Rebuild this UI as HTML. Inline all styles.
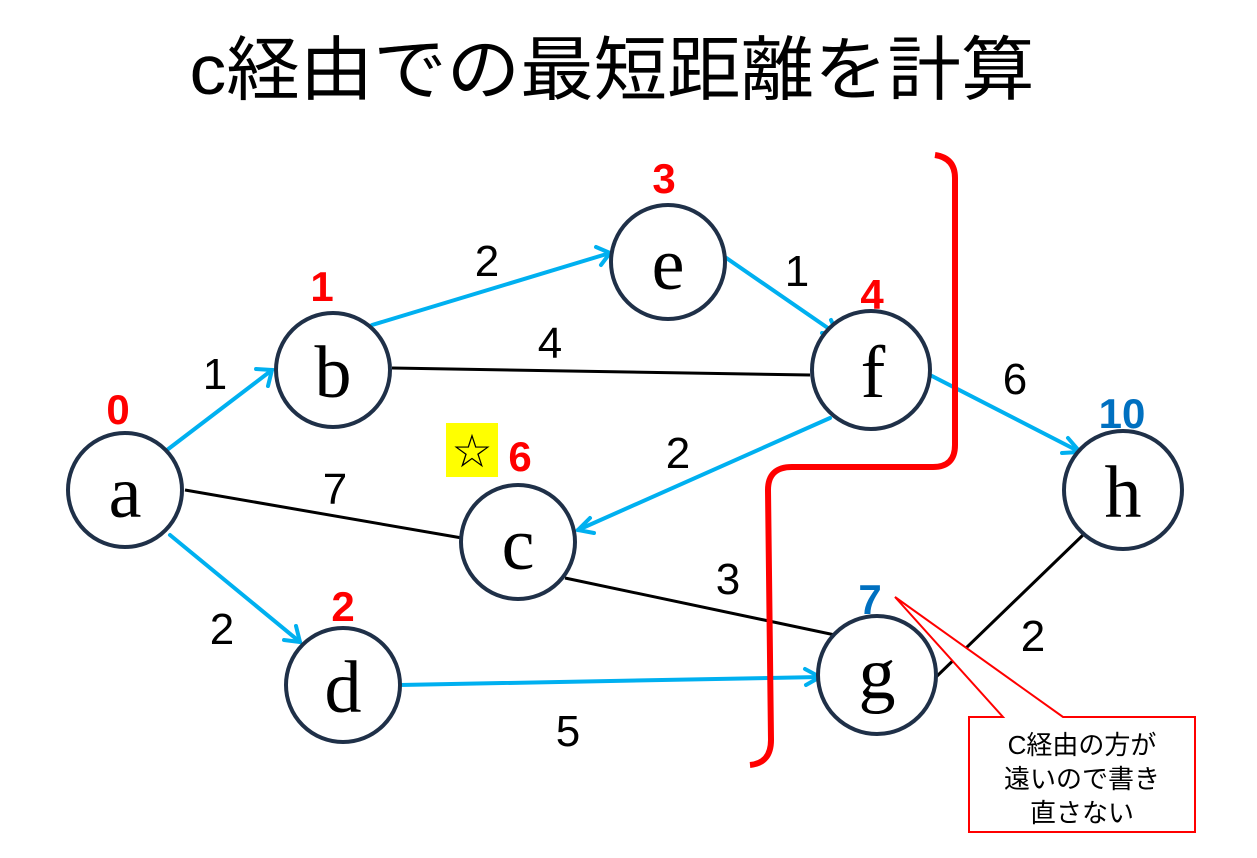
<!DOCTYPE html>
<html><head><meta charset="utf-8"><style>
html,body{margin:0;padding:0;background:#fff;width:1257px;height:858px;overflow:hidden}
svg{display:block}
.t{font-family:"Liberation Sans","Noto Sans CJK JP",sans-serif}
.n{font-family:"Liberation Serif",serif;font-size:74px;text-anchor:middle}
.w{font-family:"Liberation Sans",sans-serif;font-size:44px;text-anchor:middle}
.d{font-family:"Liberation Sans",sans-serif;font-size:42px;font-weight:bold;text-anchor:middle}
</style></head><body>
<svg width="1257" height="858" viewBox="0 0 1257 858">
<text x="612" y="94" class="t" font-size="70" text-anchor="middle" textLength="845" lengthAdjust="spacingAndGlyphs">c経由での最短距離を計算</text>

<g stroke="#000" stroke-width="3" fill="none">
<line x1="185" y1="490" x2="462" y2="538"/>
<line x1="392" y1="368" x2="810" y2="375"/>
<line x1="565" y1="578" x2="835" y2="635"/>
<line x1="935" y1="678" x2="1083" y2="535"/>
</g>
<g stroke="#00B0F0" stroke-width="4" fill="none" stroke-linecap="round">
<line x1="167" y1="450" x2="272" y2="370"/><polyline points="256,369 272,370 268,386"/>
<line x1="170" y1="535" x2="300" y2="642"/><polyline points="284,640 300,642 296,626"/>
<line x1="372" y1="325" x2="610" y2="253"/><polyline points="596,247 610,253 601,265"/>
<line x1="722" y1="255" x2="838" y2="335"/><polyline points="822,333 838,335 831,320"/>
<line x1="830" y1="418" x2="578" y2="530"/><polyline points="590,518 578,530 594,533"/>
<line x1="930" y1="375" x2="1080" y2="452"/><polyline points="1068,438 1080,452 1062,453"/>
<line x1="400" y1="685" x2="820" y2="677"/><polyline points="805,669 820,677 806,685"/>
</g>

<path d="M935,155 Q955,158 955,178 L955,445 Q955,467 933,467 L792,467 Q768,467 768,490 L771,740 Q771,763 750,765" stroke="#FF0000" stroke-width="6" fill="none"/>

<g fill="#fff" stroke="#1F3048" stroke-width="4">
<circle cx="125" cy="490" r="57"/>
<circle cx="333" cy="370" r="57"/>
<circle cx="668" cy="262" r="57"/>
<circle cx="871" cy="370" r="59"/>
<circle cx="518" cy="542" r="57"/>
<circle cx="1123" cy="490" r="59"/>
<circle cx="343" cy="685" r="57"/>
<circle cx="877" cy="675" r="59"/>
</g>
<g class="n">
<text x="125" y="517">a</text>
<text x="333" y="397">b</text>
<text x="668" y="289">e</text>
<text x="873" y="397">f</text>
<text x="518" y="569">c</text>
<text x="1123" y="517">h</text>
<text x="343" y="712">d</text>
<text x="877" y="698">g</text>
</g>

<g class="w">
<text x="215" y="389">1</text>
<text x="222" y="644">2</text>
<text x="335" y="504">7</text>
<text x="487" y="276">2</text>
<text x="550" y="358">4</text>
<text x="797" y="286">1</text>
<text x="678" y="468">2</text>
<text x="1015" y="394">6</text>
<text x="728" y="594">3</text>
<text x="568" y="746">5</text>
<text x="1033" y="651">2</text>
</g>

<g class="d" fill="#FF0000">
<text x="118" y="424">0</text>
<text x="322" y="301">1</text>
<text x="664" y="193">3</text>
<text x="872" y="309">4</text>
<text x="520" y="471">6</text>
<text x="343" y="621">2</text>
</g>
<g class="d" fill="#0070C0">
<text x="870" y="614">7</text>
<text x="1122" y="428">10</text>
</g>

<rect x="446" y="423" width="52" height="54" fill="#FFFF00"/>
<text x="472" y="467" font-family="DejaVu Sans,sans-serif" font-size="46" text-anchor="middle">☆</text>

<polygon points="895,597 1003,717 969,717 969,832 1195,832 1195,717 1063,717" fill="#fff" stroke="#FF0000" stroke-width="2"/>
<g class="t" font-size="26" text-anchor="middle">
<text x="1082" y="754">C経由の方が</text>
<text x="1082" y="788">遠いので書き</text>
<text x="1082" y="822">直さない</text>
</g>
</svg>
</body></html>
